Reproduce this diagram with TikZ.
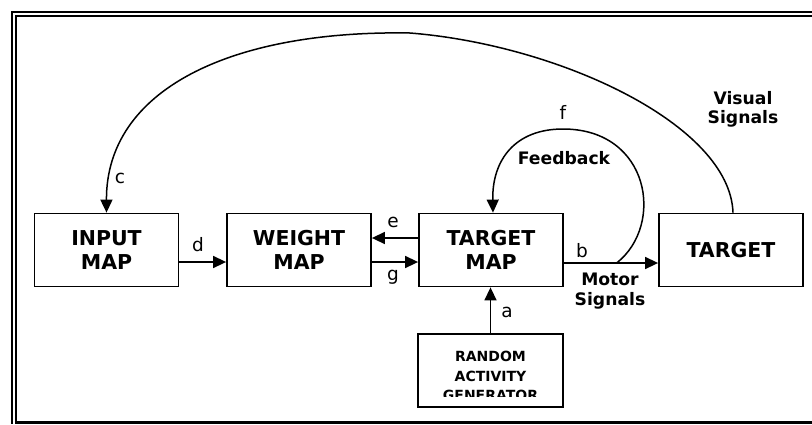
\documentclass[tikz,border=0pt]{standalone}
\usepackage{fontspec}
\setmainfont{DejaVu Sans}
\usetikzlibrary{arrows.meta,calc}

\begin{document}
\begin{tikzpicture}[x=1pt,y=-1pt,
  block/.style={draw,line width=1.8pt,minimum width=144pt,minimum height=73pt,
    inner sep=0pt,align=center,font=\fontsize{20.5}{23.5}\bfseries},
  flow/.style={line width=1.5pt,-{Triangle[length=13pt,width=12pt]}},
  lbl/.style={font=\fontsize{18.5}{20}\selectfont,inner sep=0pt,anchor=base},
  sig/.style={font=\fontsize{17.2}{19.5}\bfseries,align=center,inner sep=0pt},
  frameline/.style={line width=2pt}
]
\useasboundingbox (0,0) rectangle (812,424);

% double frame (open to the right)
\draw[frameline] (11,12) -- (812,12);
\draw[frameline] (12,11) -- (12,424);
\draw[frameline] (16,16) -- (812,16);
\draw[frameline] (16,15) -- (16,421);
\draw[line width=3pt] (15,422.5) -- (812,422.5);

% blocks
\node[block] (inp)  at (106.5,250) {INPUT\\MAP};
\node[block] (wgt)  at (299,250)   {WEIGHT\\MAP};
\node[block] (tmap) at (491,250)   {TARGET\\MAP};
\node[block] (tgt)  at (731,250)   {TARGET};
\node[block,minimum width=145pt] (rnd) at (490.5,370.5) {};
\begin{scope}
  \clip (418,334) rectangle (563,396);
  \node[font=\fontsize{14}{19.5}\bfseries,align=center,anchor=north,inner sep=0pt]
    (rndtext) at (490.5,351) {RANDOM\\ACTIVITY\\GENERATOR};
\end{scope}

% straight connectors
\draw[flow] ([yshift=-12pt]inp.east) -- ([yshift=-12pt]wgt.west);
\draw[flow] ([yshift=12pt]tmap.west) -- ([yshift=12pt]wgt.east);
\draw[flow] ([yshift=-12pt]wgt.east) -- ([yshift=-12pt]tmap.west);
\draw[flow] ([yshift=-13pt]tmap.east) -- ([yshift=-13pt]tgt.west);
\draw[flow] (rnd.north) -- (rnd.north |- tmap.south);

% feedback loop leaving the motor line
\coordinate (fbstart) at ($([yshift=-13pt]tmap.east)!0.56!([yshift=-13pt]tgt.west)$);
\draw[flow] (fbstart) .. controls (665,225) and (650,129) .. (563,129)
  .. controls (515,129) and (492,160) .. ([xshift=2pt]tmap.north);

% visual signals back to the input map
\draw[flow] ([xshift=2pt]tgt.north) .. controls (730,125) and (560,45) .. (410,33)
  .. controls (230,30) and (106,90) .. (inp.north);

% letters on the connectors
\node[lbl] (ld) at (198,251) {d};
\node[lbl] (le) at (393,227) {e};
\node[lbl] (lg) at (393,280) {g};
\node[lbl] (lb) at (582,257) {b};
\node[lbl] (la) at (507,317) {a};
\node[lbl] (lf) at (563,119) {f};
\node[lbl] (lc) at (120,183) {c};

% signal names
\node[sig,anchor=north] (vis) at (743,91) {Visual\\Signals};
\node[sig,anchor=north] (mot) at (610,273) {Motor\\Signals};
\node[sig,anchor=base] (fbk) at (564,164) {Feedback};
\end{tikzpicture}
\end{document}
